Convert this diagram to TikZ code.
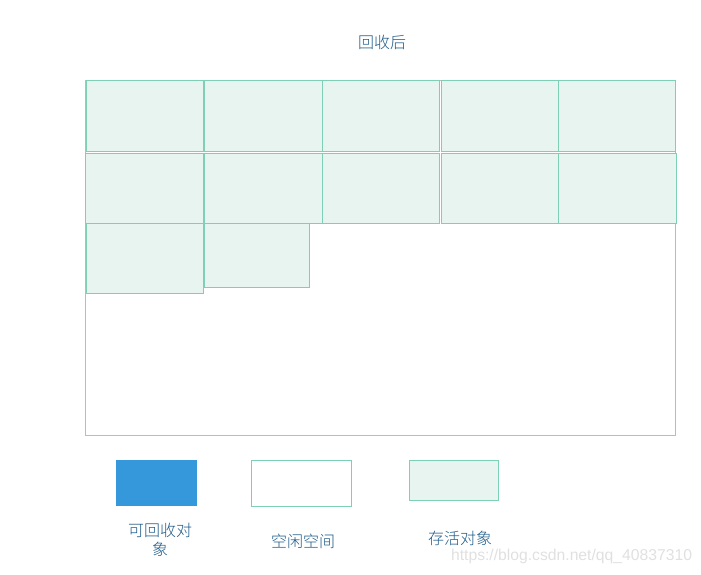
\documentclass[tikz,border=0pt]{standalone}
\usepackage{fontspec}
\newfontfamily\cjk{Noto Sans CJK SC Light}
\newfontfamily\marksans{Liberation Sans}
\usetikzlibrary{positioning}
\definecolor{livefill}{HTML}{E7F4EF}
\definecolor{liveline}{HTML}{7DD0B5}
\definecolor{deadfill}{HTML}{3598DB}
\definecolor{heapline}{HTML}{BBBBBB}
\definecolor{labeltext}{HTML}{1E5A88}
\tikzset{
  x = 1pt,
  y = -1pt,
  every node/.style = {inner sep=0pt, outer sep=0pt},
  box/.style = {draw, line width=1pt, anchor=north west},
  live/.style = {box, draw=liveline, fill=livefill},
  free/.style = {box, draw=liveline, fill=white},
  dead/.style = {box, draw=none, fill=deadfill},
  heap/.style = {box, draw=heapline},
  caption/.style = {font=\cjk\fontsize{16}{19}\selectfont, text=labeltext, align=center},
}

\begin{document}
\begin{tikzpicture}
  \useasboundingbox (0,0) rectangle (701,575);
  \node[caption] (title) at (382,42) {回收后};
  \node[heap, minimum width=590pt, minimum height=354pt] (heap) at (85,81) {};
  % first row
  \node[live, minimum width=117pt, minimum height=70pt] (a1) at (86,81) {};
  \node[live, minimum width=118pt, minimum height=70pt] (a2) at (204,81) {};
  \node[live, minimum width=117pt, minimum height=70pt] (a3) at (322,81) {};
  \node[live, minimum width=117pt, minimum height=70pt] (a4) at (441,81) {};
  \node[live, minimum width=117pt, minimum height=70pt] (a5) at (558,81) {};
  % second row
  \node[live, minimum width=118pt, minimum height=70pt] (b1) at (85,153) {};
  \node[live, minimum width=118pt, minimum height=70pt] (b2) at (204,153) {};
  \node[live, minimum width=117pt, minimum height=70pt] (b3) at (322,153) {};
  \node[live, minimum width=117pt, minimum height=70pt] (b4) at (441,153) {};
  \node[live, minimum width=118pt, minimum height=70pt] (b5) at (558,153) {};
  % third row
  \node[live, minimum width=117pt, minimum height=70pt] (c1) at (86,223) {};
  \node[live, minimum width=105pt, minimum height=64pt] (c2) at (204,223) {};
  % legend
  \node[dead, minimum width=81pt, minimum height=46pt] (deadkey) at (116,460) {};
  \node[free, minimum width=100pt, minimum height=46pt] (freekey) at (251,460) {};
  \node[live, minimum width=89pt, minimum height=40pt] (livekey) at (409,460) {};
  \node[caption] (deadtext) at (160,540) {可回收对\\象};
  \node[caption] (freetext) at (303,541) {空闲空间};
  \node[caption] (livetext) at (460,538) {存活对象};
  \node[font=\marksans\fontsize{15.7}{18}\selectfont, text=black!12, anchor=east] (mark) at (692,556) {https://blog.csdn.net/qq\_40837310};
\end{tikzpicture}
\end{document}
